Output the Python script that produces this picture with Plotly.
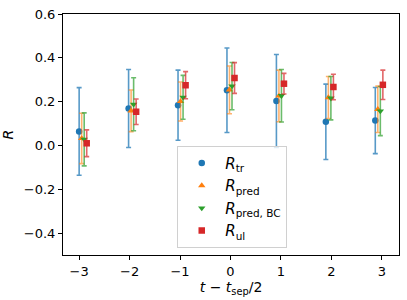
import plotly.graph_objects as go

# x positions (t - t_sep/2) of the R_tr points; other series are dodged to the right
x_tr = [-3.00, -2.02, -1.04, -0.07, 0.91, 1.89, 2.87]

R_tr = [0.064, 0.169, 0.184, 0.252, 0.203, 0.108, 0.114]
R_tr_err = [0.200, 0.178, 0.160, 0.193, 0.212, 0.172, 0.151]

R_pred = [0.032, 0.158, 0.201, 0.254, 0.226, 0.219, 0.165]
R_pred_err = [0.115, 0.095, 0.089, 0.109, 0.118, 0.096, 0.106]

R_predBC = [0.028, 0.188, 0.220, 0.271, 0.227, 0.216, 0.157]
R_predBC_err = [0.121, 0.121, 0.100, 0.108, 0.120, 0.099, 0.112]

R_ul = [0.010, 0.154, 0.275, 0.308, 0.282, 0.267, 0.277]
R_ul_err = [0.061, 0.058, 0.062, 0.070, 0.047, 0.058, 0.067]

series = [
    ("<i>R</i><sub>tr</sub>", R_tr, R_tr_err, "#1f77b4", "circle", 0.0),
    ("<i>R</i><sub>pred</sub>", R_pred, R_pred_err, "#ff7f0e", "triangle-up", 0.05),
    ("<i>R</i><sub>pred, BC</sub>", R_predBC, R_predBC_err, "#2ca02c", "triangle-down", 0.10),
    ("<i>R</i><sub>ul</sub>", R_ul, R_ul_err, "#d62728", "square", 0.15),
]

rgba = {
    "#1f77b4": "rgba(31,119,180,0.75)",
    "#ff7f0e": "rgba(255,127,14,0.6)",
    "#2ca02c": "rgba(44,160,44,0.7)",
    "#d62728": "rgba(214,39,40,0.7)",
}

fig = go.Figure()
for name, y, err, color, sym, off in series:
    fig.add_trace(go.Scatter(
        x=[v + off for v in x_tr], y=y, name=name, mode="markers",
        marker=dict(color=color, symbol=sym, size=6.5, line=dict(width=0)),
        error_y=dict(type="data", array=err, visible=True, color=rgba[color],
                     thickness=1.6, width=2.5),
    ))

font = dict(family="DejaVu Sans", size=13, color="black")
fig.update_layout(
    width=407, height=300,
    margin=dict(l=63, r=7, t=11, b=45),
    paper_bgcolor="white", plot_bgcolor="white",
    font=font,
    showlegend=True,
    legend=dict(x=0.34, y=0.03, xanchor="left", yanchor="bottom",
                bgcolor="rgba(255,255,255,0.8)", bordercolor="#d0d0d0", borderwidth=1,
                font=dict(family="DejaVu Sans", size=15, color="black"),
                itemwidth=37, tracegroupgap=0),
)
fig.update_xaxes(
    range=[-3.32, 3.34], tickvals=[-3, -2, -1, 0, 1, 2, 3],
    ticks="outside", ticklen=4, tickcolor="black",
    showline=True, linecolor="black", linewidth=1, mirror=True,
    showgrid=False, zeroline=False,
    title=dict(text="<i>t</i> − <i>t</i><sub>sep</sub>/2", standoff=4,
               font=dict(family="DejaVu Sans", size=14)),
    tickfont=font,
)
fig.update_yaxes(
    range=[-0.5, 0.6002], tickvals=[-0.4, -0.2, 0.0, 0.2, 0.4, 0.6], tickformat=".1f",
    ticks="outside", ticklen=4, tickcolor="black",
    showline=True, linecolor="black", linewidth=1, mirror=True,
    showgrid=False, zeroline=False, ticklabeloverflow="allow",
    title=dict(text="<i>R</i>", standoff=6, font=dict(family="DejaVu Sans", size=14)),
    tickfont=font,
)

# remove the browser's default 8px body margin so the figure fills the window
fig.write_html("out.html", config={"displayModeBar": False},
               post_script="document.body.style.margin='0';document.body.style.overflow='hidden';")
